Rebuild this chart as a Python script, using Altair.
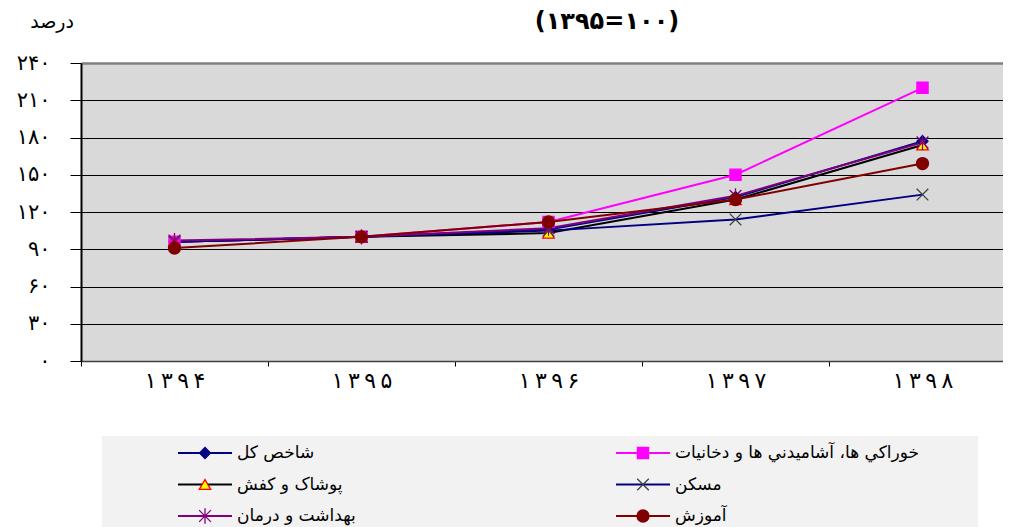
import altair as alt
import pandas as pd

# ---------------- data ----------------
years = ['۱۳۹۴', '۱۳۹۵', '۱۳۹۶', '۱۳۹۷', '۱۳۹۸']
series = ['شاخص کل', 'خوراکي ها، آشاميدني ها و دخانيات', 'پوشاک و کفش',
          'مسکن', 'بهداشت و درمان', 'آموزش']
total = [96, 100, 106, 132, 177]
food = [96, 100, 112, 150, 220]
clothing = [96, 100, 103, 130, 174]
housing = [96, 100, 105, 114, 134]
health = [97, 100, 107, 133, 176]
education = [91, 100, 112, 130, 159]
y_ticks = [0, 30, 60, 90, 120, 150, 180, 210, 240]
y_labels = ['۰', '۳۰', '۶۰', '۹۰', '۱۲۰', '۱۵۰', '۱۸۰', '۲۱۰', '۲۴۰']
title_text = '(۱۳۹۵=۱۰۰)'
y_title = 'درصد'

# ---------------- styles ----------------
X_PATH = 'M-1,-1L1,1M-1,1L1,-1'
AST_PATH = 'M-1,-1L1,1M-1,1L1,-1M0,-1.3L0,1.3'
line_colors = ['#000080', '#FF00FF', '#000000', '#000080', '#800080', '#800000']
marker_shapes = ['diamond', 'square', 'triangle-up', X_PATH, AST_PATH, 'circle']
marker_fills = ['#000080', '#FF00FF', '#FFFF00', 'transparent', 'transparent', '#800000']
marker_strokes = ['#000080', '#FF00FF', '#FF0000', '#404040', '#800080', '#800000']
marker_sizes = [120, 144, 150, 180, 180, 225]
FONT = 'DejaVu Sans'

values = [total, food, clothing, housing, health, education]
rows = []
for s, vals in zip(series, values):
    for yr, v in zip(years, vals):
        rows.append({'year': yr, 'series': s, 'value': v})
df = pd.DataFrame(rows)

leg_df = pd.DataFrame({'series': series,
                       'col': [i % 2 for i in range(len(series))],
                       'row': [i // 2 for i in range(len(series))]})

y_expr = ' : '.join(f"datum.value == {v} ? '{l}'" for v, l in zip(y_ticks, y_labels)) + " : ''"

color_enc = alt.Color('series:N', scale=alt.Scale(domain=series, range=line_colors), legend=None)
shape_enc = alt.Shape('series:N', scale=alt.Scale(domain=series, range=marker_shapes), legend=None)
fill_enc = alt.Fill('series:N', scale=alt.Scale(domain=series, range=marker_fills), legend=None)
stroke_enc = alt.Stroke('series:N', scale=alt.Scale(domain=series, range=marker_strokes), legend=None)
size_enc = alt.Size('series:N', scale=alt.Scale(domain=series, range=marker_sizes), legend=None)

x_enc = alt.X('year:N', sort=years,
              scale=alt.Scale(type='band', domain=years, range=[0, 935], paddingInner=0, paddingOuter=0),
              axis=alt.Axis(title=None, tickBand='extent', ticks=True, tickSize=5, tickColor='#000000',
                            domainColor='#404040', domainWidth=1.5, labelFontSize=22, labelPadding=4,
                            labelAngle=0, labelColor='#000000', labelFont=FONT, grid=False,
                            labelExpr="join(split(datum.label, ''), '\u2009')"))
y_enc = alt.Y('value:Q', scale=alt.Scale(domain=[0, 240], nice=False, zero=True),
              axis=alt.Axis(title=None, values=y_ticks, labelExpr=y_expr, tickSize=11,
                            tickColor='#000000', domainColor='#000000', domainWidth=2,
                            labelFontSize=21, labelPadding=20, labelColor='#000000', labelFont=FONT,
                            grid=True,
                            gridColor={'condition': {'test': 'datum.value == 240', 'value': '#808080'},
                                       'value': '#000000'},
                            gridWidth={'condition': {'test': 'datum.value == 240', 'value': 2.5},
                                       'value': 1}))

base = alt.Chart(df)
lines = base.mark_line(strokeWidth=2).encode(x=x_enc, y=y_enc, color=color_enc)
points = base.mark_point(opacity=1, strokeWidth=1.3).encode(
    x=x_enc, y=y_enc, shape=shape_enc, fill=fill_enc, stroke=stroke_enc, size=size_enc)
main = alt.layer(lines, points)

# ---------------- legend & titles ----------------
lx = alt.X('col:Q', scale=alt.Scale(domain=[0, 1], range=[124, 562], nice=False, zero=False), axis=None)
ly = alt.Y('row:Q', scale=alt.Scale(domain=[0, 2], range=[390, 453], nice=False, zero=False), axis=None)

one = pd.DataFrame({'t': [title_text], 'u': [y_title]})
bg = alt.Chart(one).mark_rect(fill='#f2f2f2').encode(
    x=alt.value(21), x2=alt.value(897), y=alt.value(373), y2=alt.value(480))
title = alt.Chart(one).mark_text(fontSize=24, fontWeight='bold', font=FONT, color='#000000',
                                 baseline='middle', align='center').encode(
    x=alt.value(526), y=alt.value(-41), text='t:N')
ytitle = alt.Chart(one).mark_text(fontSize=19, font=FONT, color='#000000',
                                  baseline='middle', align='right').encode(
    x=alt.value(-7), y=alt.value(-41), text='u:N')

lbase = alt.Chart(leg_df)
lrules = lbase.mark_rule(strokeWidth=2, xOffset=-27, x2Offset=27).encode(
    x=lx, x2='col:Q', y=ly, color=color_enc)
lpoints = lbase.mark_point(opacity=1, strokeWidth=1.3).encode(
    x=lx, y=ly, shape=shape_enc, fill=fill_enc, stroke=stroke_enc, size=size_enc)
ltext = lbase.mark_text(align='left', dx=32, baseline='middle', fontSize=17, font=FONT,
                        color='#000000').encode(x=lx, y=ly, text='series:N')
legend = alt.layer(bg, lrules, lpoints, ltext, title, ytitle)

chart = alt.layer(main, legend).resolve_scale(x='independent', y='independent').properties(
    width=922, height=298,
    padding={'left': 73, 'top': 55, 'right': 0, 'bottom': 166},
    autosize=alt.AutoSizeParams(type='none'),
    background='#ffffff'
).configure_view(fill='#d9d9d9', strokeWidth=0)

chart.save('out.html', embed_options={'renderer': 'svg', 'actions': False})
